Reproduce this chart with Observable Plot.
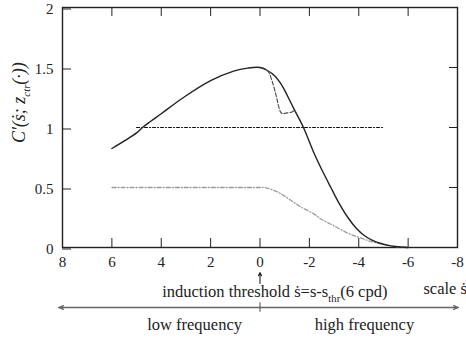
<!DOCTYPE html>
<html>
<head>
<meta charset="utf-8">
<script src="https://cdn.jsdelivr.net/npm/d3@7"></script>
<script src="https://cdn.jsdelivr.net/npm/@observablehq/plot@0.6"></script>
<style>
  body { margin: 0; background: white; }
</style>
</head>
<body>
<div id="chart"></div>
<script>
// ---- data ----
const xTicks = [8, 6, 4, 2, 0, -2, -4, -6, -8];
const yTicks = [0, 0.5, 1, 1.5, 2];

// solid curve C'(s)
const solidS = [-6, -5.5, -5.2, -4.9, -4.6, -4.22, -3.9, -3.56, -3.2, -2.87, -2.5, -2.18, -1.76, -1.4, -1.23, -1.0, -0.83, -0.6, -0.3, 0, 0.5, 1.07, 2, 3.1, 4, 4.44, 4.76, 5, 6];
const solidV = [0, 0.008, 0.018, 0.033, 0.055, 0.10, 0.16, 0.25, 0.37, 0.50, 0.65, 0.79, 1.0, 1.145, 1.215, 1.31, 1.37, 1.43, 1.475, 1.5, 1.495, 1.47, 1.39, 1.25, 1.115, 1.05, 1.0, 0.955, 0.825];

// dashed curve (dip after threshold)
const dashS = [-1.5, -1.4, -1.3, -1.2, -1.05, -0.9, -0.83, -0.75, -0.65, -0.5, -0.35, -0.2, 0];
const dashV = [1.105, 1.14, 1.13, 1.125, 1.12, 1.115, 1.13, 1.18, 1.27, 1.38, 1.46, 1.49, 1.5];

// dash-dot grey curve
const ddS = [-6, -5.5, -4.9, -4.5, -4, -3.56, -3, -2.45, -2.18, -1.64, -1.2, -0.83, -0.5, -0.2, 0, 3, 6];
const ddV = [0, 0.008, 0.03, 0.05, 0.085, 0.12, 0.18, 0.24, 0.28, 0.34, 0.40, 0.45, 0.48, 0.5, 0.5, 0.5, 0.5];

// dotted constant line at 1
const dotS = [5, -5];
const dotV = [1, 1];

// annotation texts and anchor values (in data units, below the frame)
const centerTexts = ["induction threshold ṡ=s-s_{thr}(6 cpd)", "low frequency", "high frequency"];
const centerX = [-0.6, 2.65, -4.23];
const centerY = [-0.37, -0.64, -0.64];
const scaleText = "scale ṡ";
const scaleX = -6.62;
const scaleY = -0.345;
const axisArrowEnds = [8.16, -8.04];
const axisArrowY = -0.5;
const upArrow = {x: 0, y1: -0.3, y2: -0.208};
const yLabel = "C′(ṡ; z_{ctr}(·))";

const solid = solidS.map((s, i) => ({s, v: solidV[i]}));
const dashed = dashS.map((s, i) => ({s, v: dashV[i]}));
const dashdot = ddS.map((s, i) => ({s, v: ddV[i]}));
const dotted = dotS.map((s, i) => ({s, v: dotV[i]}));
const ann = centerTexts.map((t, i) => ({t, x: centerX[i], y: centerY[i]}));

const font = "'Liberation Serif', 'Times New Roman', serif";

const chart = Plot.plot({
  width: 466,
  height: 341,
  marginLeft: 62,
  marginRight: 9,
  marginTop: 7,
  marginBottom: 94,
  style: {fontFamily: font, fontSize: "15px", color: "#222", background: "white"},
  x: {domain: [8, -8]},
  y: {domain: [0, 2]},
  marks: [
    Plot.axisX({ticks: xTicks, anchor: "bottom", tickSize: -9, tickPadding: 18, tickFormat: d => String(d), label: null, fontSize: 15, stroke: "#222"}),
    Plot.axisX({ticks: xTicks, anchor: "top", tickSize: -8, tickFormat: () => "", label: null, stroke: "#222"}),
    Plot.axisY({ticks: yTicks, anchor: "left", tickSize: -9, tickPadding: 18, tickFormat: d => String(d), label: null, fontSize: 15, dy: 1.5, stroke: "#222"}),
    Plot.axisY({ticks: yTicks, anchor: "right", tickSize: -9, tickFormat: () => "", label: null, stroke: "#222"}),
    Plot.frame({stroke: "#222", strokeWidth: 1.4}),
    Plot.line(dashdot, {x: "s", y: "v", curve: "catmull-rom", stroke: "#9a9a9a", strokeWidth: 1.3, strokeDasharray: "4,2,1,2"}),
    Plot.line(dotted, {x: "s", y: "v", stroke: "#111", strokeWidth: 1.2, strokeDasharray: "3,2,1,2"}),
    Plot.line(solid, {x: "s", y: "v", curve: "catmull-rom", stroke: "#222", strokeWidth: 1.4}),
    Plot.line(dashed, {x: "s", y: "v", curve: "catmull-rom", stroke: "#444", strokeWidth: 1.1, strokeDasharray: "4,2"}),
    // horizontal double arrow below the axis
    Plot.arrow(axisArrowEnds, {x1: 0, x2: d => d, y1: axisArrowY, y2: axisArrowY, stroke: "#666", strokeWidth: 1.3, headLength: 6, headAngle: 40}),
    Plot.ruleX([0], {y1: axisArrowY + 0.04, y2: axisArrowY - 0.04, stroke: "#666", strokeWidth: 1.2}),
    // upward arrow at threshold
    Plot.arrow([upArrow], {x1: "x", x2: "x", y1: "y1", y2: "y2", stroke: "#222", strokeWidth: 1.1, headLength: 5, headAngle: 50}),
    Plot.text(ann, {x: "x", y: "y", text: "t", textAnchor: "middle", fontSize: 16.5, fill: "#222", fontFamily: font}),
    Plot.text([scaleText], {x: scaleX, y: scaleY, text: d => d, textAnchor: "start", fontSize: 16.5, fill: "#222", fontFamily: font}),
    Plot.text([yLabel], {frameAnchor: "left", y: 0.87, dx: -43, text: d => d, rotate: -90, fontSize: 18, fontStyle: "italic", fill: "#222", fontFamily: font})
  ]
});

// subscripts: convert "_{...}" into lowered smaller tspans
d3.select(chart).selectAll("text").each(function () {
  const t = this.textContent;
  if (!t.includes("_{")) return;
  const sel = d3.select(this);
  const fs = parseFloat(sel.attr("font-size")) || 15;
  const shift = fs * 0.3;
  sel.text(null);
  const parts = t.split(/(_\{[^}]*\})/);
  let lowered = false;
  for (const p of parts) {
    if (!p) continue;
    if (p.startsWith("_{")) {
      sel.append("tspan").attr("font-size", fs * 0.72).attr("dy", shift).text(p.slice(2, -1));
      lowered = true;
    } else {
      const ts = sel.append("tspan").text(p);
      if (lowered) { ts.attr("dy", -shift); lowered = false; }
    }
  }
});

document.getElementById("chart").appendChild(chart);
</script>
</body>
</html>
